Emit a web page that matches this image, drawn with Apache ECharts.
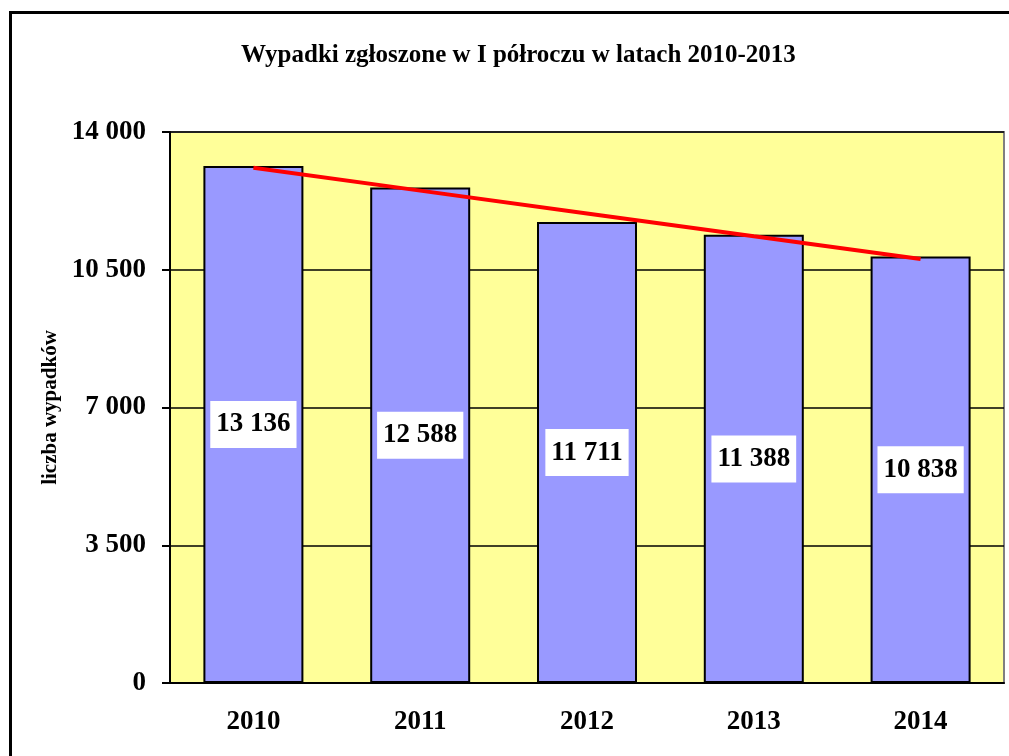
<!DOCTYPE html>
<html>
<head>
<meta charset="utf-8">
<script src="https://cdn.jsdelivr.net/npm/echarts@6/dist/echarts.min.js"></script>
<style>
  html, body { margin: 0; padding: 0; background: #fff; }
  #frame { position: absolute; left: 9px; top: 11px; width: 1000px; height: 745px;
           border-top: 3px solid #000; border-left: 3px solid #000; box-sizing: border-box; }
  #chart { position: absolute; left: 0; top: 0; width: 1009px; height: 756px; }
</style>
</head>
<body>
<div id="frame"></div>
<div id="chart"></div>
<script>
// dane z wykresu
const years = ['2010', '2011', '2012', '2013', '2014']
const accidents = [13136, 12588, 11711, 11388, 10838]
const trend = [13090, 12510, 11930, 11350, 10775]
const yTicks = [0, 3500, 7000, 10500, 14000]

const fmt = v => String(v).replace(/\B(?=(\d{3})+(?!\d))/g, ' ')
const serif = '"Liberation Serif", "Times New Roman", serif'

const chart = echarts.init(document.getElementById('chart'))
chart.setOption({
  animation: false,
  title: {
    text: 'Wypadki zgłoszone w I półroczu w latach 2010-2013',
    left: 236,
    top: 38,
    textStyle: { fontFamily: serif, fontWeight: 'bold', fontSize: 25, color: '#000' }
  },
  grid: {
    left: 170, right: 5, top: 132, bottom: 73,
    show: true,
    backgroundColor: '#FFFF99',
    borderColor: '#808080',
    borderWidth: 2
  },
  xAxis: {
    type: 'category',
    data: years,
    axisLine: { lineStyle: { color: '#000', width: 2 } },
    axisTick: { length: 8, lineStyle: { color: '#000', width: 2 } },
    axisLabel: { margin: 26, fontFamily: serif, fontWeight: 'bold', fontSize: 27, color: '#000' }
  },
  yAxis: {
    type: 'value',
    min: yTicks[0],
    max: yTicks[yTicks.length - 1],
    interval: 3500,
    name: 'liczba wypadków',
    nameLocation: 'middle',
    nameRotate: 90,
    nameGap: 108,
    nameTextStyle: { fontFamily: serif, fontWeight: 'bold', fontSize: 21, color: '#000' },
    axisLine: { show: true, lineStyle: { color: '#000', width: 2 } },
    axisTick: { show: true, length: 8, lineStyle: { color: '#000', width: 2 } },
    axisLabel: { margin: 24, fontFamily: serif, fontWeight: 'bold', fontSize: 27, color: '#000',
      formatter: v => fmt(v) },
    splitLine: { lineStyle: { color: '#000', width: 1.5 } }
  },
  series: [
    {
      type: 'bar',
      data: accidents,
      barWidth: 100,
      itemStyle: { color: '#9999FF', borderColor: '#000', borderWidth: 2 },
      label: {
        show: true,
        position: 'inside',
        formatter: p => fmt(p.value),
        backgroundColor: '#fff',
        padding: [11, 6, 9, 6],
        fontFamily: serif, fontWeight: 'bold', fontSize: 27, color: '#000'
      }
    },
    {
      type: 'line',
      data: trend,
      symbol: 'none',
      z: 5,
      lineStyle: { color: '#FF0000', width: 4 }
    }
  ]
})
</script>
</body>
</html>
